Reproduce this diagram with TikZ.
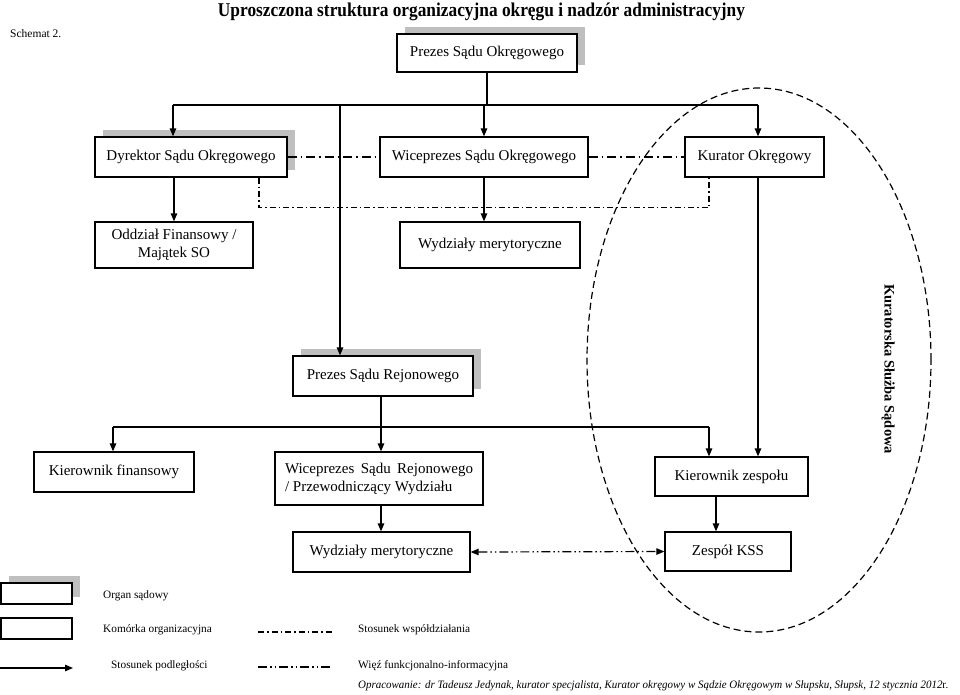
\documentclass[tikz,border=0pt]{standalone}
\usepackage{fontspec}
\setmainfont{Liberation Serif}
\usetikzlibrary{arrows.meta,shadows,calc}
\begin{document}
\begin{tikzpicture}[x=1pt,y=-1pt,
  box/.style={draw, line width=1.3pt, fill=white, inner sep=2pt,
    font=\fontsize{15}{18}\selectfont, align=center},
  shad/.style={drop shadow={shadow xshift=8pt, shadow yshift=7pt, fill=black!25, opacity=1}},
  ln/.style={line width=1.3pt},
  sub/.style={line width=1.3pt, -{Triangle[length=8pt,width=6.5pt]}},
  coop/.style={line width=1.1pt, dash pattern=on 6pt off 3pt on 1.5pt off 3pt},
  func/.style={line width=1.2pt, dash pattern=on 9pt off 4pt on 1.5pt off 4pt},
  funcdd/.style={line width=1.2pt, dash pattern=on 9pt off 3pt on 1.5pt off 3pt on 1.5pt off 3pt},
  elldash/.style={line width=1.2pt, dash pattern=on 7pt off 4pt},
  legtxt/.style={anchor=west, inner sep=0pt, font=\fontsize{11.3}{13}\selectfont}
]
\useasboundingbox (0,0) rectangle (960,694);

% titles
\node[anchor=base, inner sep=0pt] (title) at (481.5,16)
  {\resizebox{527pt}{\height}{\bfseries\fontsize{19.5}{22}\selectfont Uproszczona struktura organizacyjna okręgu i nadzór administracyjny}};
\node[anchor=base west, inner sep=0pt, font=\fontsize{11.5}{13}\selectfont] (schemat) at (10,37) {Schemat 2.};

% ellipse
\draw[elldash] (759,360) ellipse [x radius=172pt, y radius=272pt];
\node[rotate=-90, inner sep=0pt, font=\bfseries\fontsize{14.5}{16}\selectfont] (kss-label) at (888,369) {Kuratorska Służba Sądowa};

% boxes
\node[box, shad, minimum width=180pt, minimum height=38pt] (pso) at (487,53) {Prezes Sądu Okręgowego};
\node[box, shad, minimum width=192pt, minimum height=40pt] (dso) at (191,157) {Dyrektor Sądu Okręgowego};
\node[box, minimum width=208pt, minimum height=40pt] (wso) at (484,157) {Wiceprezes Sądu Okręgowego};
\node[box, minimum width=139pt, minimum height=40pt] (kur) at (754.5,157) {Kurator Okręgowy};
\node[box, minimum width=158pt, minimum height=46pt] (odz) at (174,245) {Oddział Finansowy /\\Majątek SO};
\node[box, minimum width=180pt, minimum height=46pt] (wm1) at (490,245) {Wydziały merytoryczne};
\node[box, shad, minimum width=180pt, minimum height=40pt] (psr) at (383,376) {Prezes Sądu Rejonowego};
\node[box, minimum width=160pt, minimum height=40pt] (kfin) at (114,472) {Kierownik finansowy};
\node[box, align=left, minimum width=208pt, minimum height=53pt] (wsr) at (379,478.5)
  {\makebox[188pt][s]{Wiceprezes Sądu Rejonowego}\\/ Przewodniczący Wydziału};
\node[box, minimum width=153pt, minimum height=39pt] (kz) at (731.5,476.5) {Kierownik zespołu};
\node[box, minimum width=177pt, minimum height=40pt] (wm2) at (381.5,552) {Wydziały merytoryczne};
\node[box, minimum width=126pt, minimum height=39pt] (kss) at (728,551.5) {Zespół KSS};

% top distribution bar
\coordinate (barL) at (173,105);
\coordinate (barR) at (758,105);
\coordinate (barM) at (340,105);
\draw[ln] (pso.south) -- (pso.south |- barL);
\draw[ln] (barL) -- (barR);
\draw[sub] (barL) -- (barL |- dso.north);
\draw[sub] (wso.north |- barL) -- (wso.north);
\draw[sub] (barR) -- (barR |- kur.north);
\draw[sub] (barM) -- (barM |- psr.north);

% second level
\draw[sub] (odz.north |- dso.south) -- (odz.north);
\draw[sub] (wso.south) -- (wso.south |- wm1.north);
\draw[func] (dso.east) -- (wso.west);
\draw[func] (wso.east) -- (kur.west);
\draw[coop] ([xshift=68pt]dso.south) -- ++(0,30) -| ([xshift=-45.5pt]kur.south);

% kurator to kierownik zespolu
\draw[sub] (barR |- kur.south) -- (barR |- kz.north);

% rejon level
\coordinate (rbarL) at (113,427);
\coordinate (rbarR) at (709,427);
\coordinate (rbarM) at (381,427);
\draw[ln] (rbarM |- psr.south) -- (rbarM);
\draw[ln] (rbarL) -- (rbarR);
\draw[sub] (rbarL) -- (rbarL |- kfin.north);
\draw[sub] (rbarM) -- (rbarM |- wsr.north);
\draw[sub] (rbarR) -- (rbarR |- kz.north);
\draw[sub] (rbarM |- wsr.south) -- (rbarM |- wm2.north);
\coordinate (kzx) at (716,500);
\draw[sub] (kzx |- kz.south) -- (kzx |- kss.north);
\draw[funcdd, {Triangle[length=8pt,width=6.5pt]}-{Triangle[length=8pt,width=6.5pt]}] (wm2.east) -- (kss.west);

% legend
\node[draw, line width=1.3pt, fill=white, shad, minimum width=71pt, minimum height=21pt, inner sep=0pt] (leg1) at (36.5,593.5) {};
\node[draw, line width=1.3pt, fill=white, minimum width=71pt, minimum height=21pt, inner sep=0pt] (leg2) at (36.5,628.5) {};
\coordinate (la1) at (0,668);
\coordinate (la2) at (73,668);
\draw[sub] (la1) -- (la2);
\coordinate (lc1) at (258,632);
\coordinate (lc2) at (333,632);
\draw[coop] (lc1) -- (lc2);
\coordinate (lf1) at (258,667);
\coordinate (lf2) at (333,667);
\draw[funcdd] (lf1) -- (lf2);
\node[legtxt] (t1) at (103,596) {Organ sądowy};
\node[legtxt] (t2) at (103,630) {Komórka organizacyjna};
\node[legtxt] (t3) at (111,666) {Stosunek podległości};
\node[legtxt] (t4) at (358,630) {Stosunek współdziałania};
\node[legtxt] (t5) at (358,666) {Więź funkcjonalno-informacyjna};
\node[anchor=west, inner sep=0pt] (opr) at (358,686)
  {\resizebox{590pt}{\height}{\fontsize{11.3}{13}\selectfont\itshape Opracowanie: dr Tadeusz Jedynak, kurator specjalista, Kurator okręgowy w Sądzie Okręgowym w Słupsku, Słupsk, 12 stycznia 2012\upshape r.}};
\end{tikzpicture}
\end{document}
